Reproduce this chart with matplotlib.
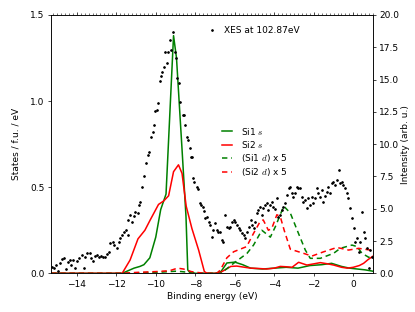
import numpy as np
import matplotlib
matplotlib.use("Agg")
import matplotlib.pyplot as plt
from matplotlib.ticker import MultipleLocator

plt.rcParams['mathtext.fontset'] = 'cm'

# XES spectrum (right axis)
xes_e = [-15.26, -15.14, -15.04, -14.97, -14.87, -14.75, -14.63, -14.53, -14.46, -14.36,
         -14.29, -14.19, -14.08, -13.99, -13.86, -13.74, -13.65, -13.57, -13.48, -13.35,
         -13.28, -13.18, -13.06, -12.98, -12.85, -12.77, -12.67, -12.56, -12.47, -12.39,
         -12.30, -12.17, -12.10, -11.97, -11.88, -11.80, -11.71, -11.63, -11.49, -11.43,
         -11.38, -11.29, -11.20, -11.12, -11.04, -10.92, -10.87, -10.78, -10.70, -10.58,
         -10.50, -10.41, -10.33, -10.24, -10.16, -10.11, -10.03, -9.96, -9.90, -9.80,
         -9.74, -9.66, -9.59, -9.52, -9.45, -9.38, -9.30, -9.22, -9.13, -9.05,
         -8.97, -8.90, -8.81, -8.76, -8.62, -8.56, -8.51, -8.43, -8.37, -8.29,
         -8.22, -8.17, -8.12, -8.05, -7.93, -7.86, -7.78, -7.70, -7.62, -7.57,
         -7.49, -7.41, -7.32, -7.24, -7.17, -7.09, -7.00, -6.92, -6.84, -6.75,
         -6.65, -6.58, -6.48, -6.40, -6.31, -6.23, -6.14, -6.06, -5.97, -5.89,
         -5.80, -5.72, -5.63, -5.55, -5.47, -5.38, -5.30, -5.20, -5.13, -5.05,
         -4.97, -4.88, -4.80, -4.71, -4.63, -4.55, -4.46, -4.38, -4.30, -4.22,
         -4.13, -4.05, -3.96, -3.87, -3.79, -3.71, -3.62, -3.54, -3.46, -3.36,
         -3.28, -3.20, -3.12, -3.04, -2.95, -2.87, -2.79, -2.70, -2.62, -2.54,
         -2.45, -2.37, -2.28, -2.20, -2.11, -2.03, -1.95, -1.86, -1.77, -1.69,
         -1.61, -1.52, -1.44, -1.35, -1.27, -1.18, -1.10, -1.01, -0.93, -0.84,
         -0.74, -0.67, -0.59, -0.51, -0.42, -0.34, -0.25, -0.17, -0.08, 0.02,
         0.10, 0.19, 0.27, 0.35, 0.44, 0.52, 0.61, 0.69, 0.78, 0.86, 0.95]
xes_i = [0.46, 0.39, 0.64, 0.20, 0.82, 1.08, 1.16, 0.31, 0.90, 1.03,
         0.64, 1.03, 0.39, 0.98, 1.16, 1.42, 0.39, 1.29, 1.55, 1.60,
         1.16, 0.98, 1.34, 1.42, 1.24, 1.34, 1.29, 1.29, 1.49, 1.67,
         2.32, 2.45, 2.19, 1.94, 2.45, 2.71, 2.97, 3.22, 3.35, 2.97,
         4.13, 4.51, 4.00, 4.44, 4.77, 4.64, 5.29, 5.55, 6.71, 7.53,
         8.52, 9.16, 9.42, 10.53, 10.96, 11.48, 12.59, 12.64, 13.16, 14.91,
         15.28, 15.61, 15.95, 17.10, 16.31, 17.16, 18.10, 17.29, 18.70, 17.16,
         16.65, 15.10, 14.71, 13.29, 12.26, 12.26, 11.48, 10.58, 10.32, 9.68,
         9.03, 9.03, 7.36, 7.10, 6.71, 6.50, 5.42, 5.30, 5.10, 4.85,
         4.26, 4.38, 4.00, 3.74, 2.79, 3.35, 3.87, 3.35, 3.20, 3.20,
         2.58, 2.45, 4.50, 3.56, 3.48, 3.60, 4.00, 4.10, 4.00, 3.74,
         3.48, 3.35, 3.10, 2.97, 2.71, 3.22, 3.60, 4.10, 3.74, 3.48,
         4.00, 4.64, 4.90, 5.16, 4.51, 5.03, 5.29, 5.42, 4.90, 5.29,
         5.55, 5.16, 5.00, 5.80, 4.39, 4.51, 4.90, 5.16, 5.42, 6.06,
         6.58, 6.71, 6.19, 5.93, 6.19, 6.71, 6.60, 6.58, 5.93, 5.50,
         5.67, 5.03, 5.80, 5.30, 5.93, 5.42, 5.80, 6.58, 6.19, 5.90,
         6.45, 5.55, 6.00, 6.32, 6.71, 6.19, 6.97, 7.10, 6.84, 7.23,
         8.00, 6.97, 7.10, 6.84, 6.58, 6.20, 5.80, 5.03, 4.30, 3.48,
         2.45, 2.71, 1.67, 2.45, 4.77, 3.22, 2.71, 1.94, 0.40, 1.81, 1.29]

# Si1 s
si1_s_e = [-15.3, -11.7, -11.4, -11.1, -10.8, -10.6, -10.3, -10.0, -9.75, -9.48,
           -9.1, -8.95, -8.67, -8.47, -8.38, -8.25, -7.0, -6.7, -6.4, -6.0,
           -5.6, -5.2, -4.6, -4.0, -3.4, -2.8, -2.2, -1.6, -1.1, -0.6,
           -0.2, 0.2, 0.6, 1.0]
si1_s = [0, 0, 0.015, 0.03, 0.04, 0.05, 0.09, 0.21, 0.37, 0.46,
         1.38, 1.25, 0.72, 0.33, 0.02, 0, 0, 0.01, 0.06, 0.065,
         0.05, 0.03, 0.025, 0.03, 0.035, 0.03, 0.045, 0.05, 0.058, 0.04,
         0.03, 0.025, 0.02, 0.012]

# Si2 s
si2_s_e = [-15.3, -11.7, -11.3, -10.9, -10.55, -10.28, -9.86, -9.6, -9.35, -9.1,
           -8.85, -8.67, -8.46, -8.17, -7.83, -7.54, -7.4, -6.8, -6.5, -6.2,
           -5.9, -5.5, -5.2, -4.8, -4.4, -4.0, -3.7, -3.4, -3.1, -2.77,
           -2.35, -2.0, -1.67, -1.3, -1.0, -0.6, -0.3, 0.0, 0.3, 0.52,
           0.75, 1.0]
si2_s = [0, 0, 0.077, 0.2, 0.25, 0.31, 0.40, 0.42, 0.45, 0.59,
         0.63, 0.58, 0.39, 0.26, 0.135, 0.01, 0, 0, 0.02, 0.04,
         0.042, 0.035, 0.03, 0.028, 0.025, 0.03, 0.04, 0.038, 0.035, 0.064,
         0.048, 0.055, 0.062, 0.055, 0.048, 0.035, 0.03, 0.035, 0.045, 0.058,
         0.08, 0.10]

# Si1 d x 5
si1_d_e = [-15.3, -11.7, -11.0, -10.0, -9.3, -9.0, -8.7, -8.3, -7.9, -7.5,
           -7.0, -6.7, -6.06, -5.38, -5.05, -4.63, -4.2, -3.95, -3.52, -3.19,
           -2.77, -2.43, -2.18, -1.67, -1.0, -0.66, -0.07, 0.19, 0.44, 0.78, 1.0]
si1_d = [0, 0, 0.003, 0.005, 0.01, 0.012, 0.01, 0.005, 0.002, 0,
         0, 0, 0.058, 0.116, 0.164, 0.25, 0.21, 0.27, 0.39, 0.35,
         0.23, 0.135, 0.087, 0.087, 0.116, 0.145, 0.164, 0.155, 0.116, 0.093, 0.10]

# Si2 d x 5
si2_d_e = [-15.3, -11.7, -11.0, -10.0, -9.3, -8.9, -8.6, -8.2, -7.9, -7.5,
           -6.9, -6.73, -6.4, -6.06, -5.4, -5.06, -4.72, -4.56, -4.3, -4.13,
           -3.87, -3.7, -3.5, -3.19, -2.52, -2.1, -1.5, -0.83, -0.24, 0.27,
           0.85, 1.0]
si2_d = [0, 0, 0.005, 0.01, 0.015, 0.03, 0.025, 0.01, 0.005, 0,
         0, 0.02, 0.09, 0.125, 0.155, 0.23, 0.30, 0.31, 0.25, 0.26,
         0.34, 0.33, 0.25, 0.14, 0.116, 0.10, 0.125, 0.15, 0.135, 0.145,
         0.135, 0.13]

fig = plt.figure(figsize=(415 / 65, 312 / 65), dpi=65)
ax = fig.add_axes([0.123, 0.124, 0.776, 0.828])
ax2 = ax.twinx()

ax.plot(si1_s_e, si1_s, color='green', lw=1.7, label=r'Si1 $s$')
ax.plot(si2_s_e, si2_s, color='red', lw=1.7, label=r'Si2 $s$')
ax.plot(si1_d_e, si1_d, color='green', lw=1.7, ls=(0, (3.5, 2.5)), label=r'(Si1 $d$) x 5')
ax.plot(si2_d_e, si2_d, color='red', lw=1.7, ls=(0, (3.5, 2.5)), label=r'(Si2 $d$) x 5')

ax2.plot(xes_e, xes_i, 'k.', ms=3.8, label='XES at 102.87eV')

ax.set_xlim(-15.3, 1.0)
ax.set_ylim(0, 1.5)
ax2.set_ylim(0, 20)
ax.set_yticks([0, 0.5, 1.0, 1.5])
ax2.set_yticks(np.arange(0, 20.1, 2.5))
ax.xaxis.set_major_locator(MultipleLocator(2))
ax.xaxis.set_minor_locator(MultipleLocator(0.2))
ax.tick_params(axis='x', which='both', top=True)
ax.tick_params(axis='x', which='minor', bottom=False, length=2)

ax.set_xlabel('Binding energy (eV)')
ax.set_ylabel('States / f.u. / eV', labelpad=11)
ax2.set_ylabel('Intensity (arb. u.)', labelpad=2)

ax.legend(loc='center left', bbox_to_anchor=(0.505, 0.47), frameon=False,
          handlelength=1.1, labelspacing=0.25, handletextpad=1.0)
ax2.legend(loc='upper left', bbox_to_anchor=(0.46, 0.99), frameon=False,
           handlelength=1.0, handletextpad=0.8)

fig.savefig('out.png', dpi=65)
